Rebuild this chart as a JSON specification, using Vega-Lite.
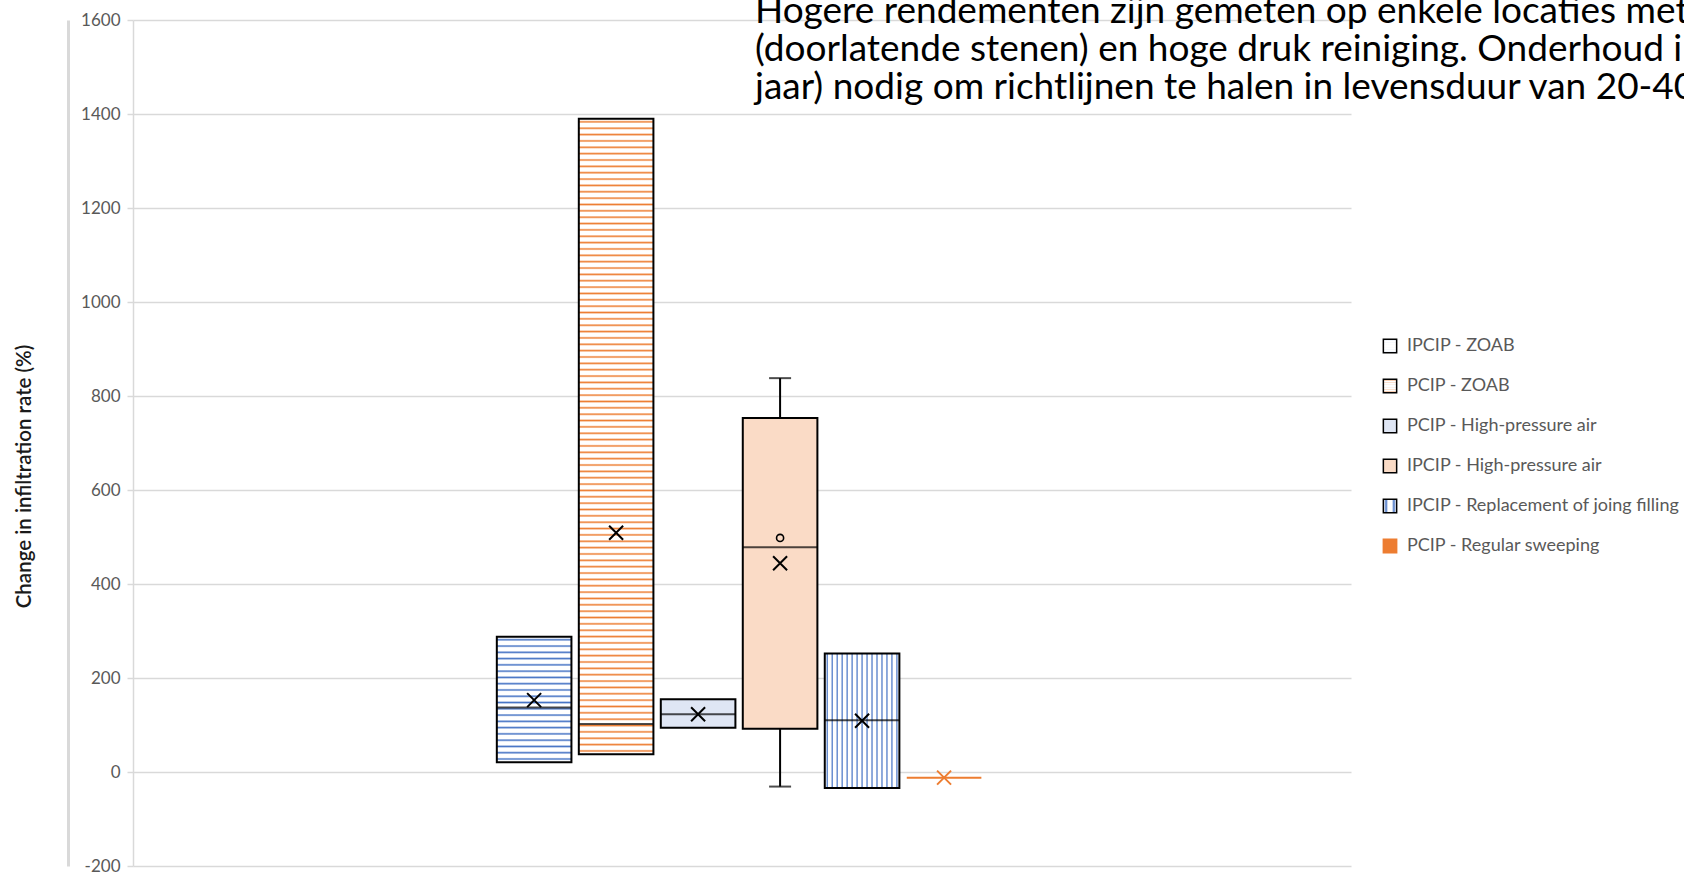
{
  "$schema": "https://vega.github.io/schema/vega-lite/v6.json",
  "autosize": "none",
  "width": 1218,
  "height": 846,
  "padding": {"left": 133, "top": 20, "right": 333, "bottom": 9},
  "background": "white",
  "config": {"font": "Lato", "view": {"stroke": null}},
  "title": {
    "text": [
      "Hogere rendementen zijn gemeten op enkele locaties met",
      "(doorlatende stenen) en hoge druk reiniging. Onderhoud i",
      "jaar) nodig om richtlijnen te halen in levensduur van 20-40"
    ],
    "anchor": "start",
    "frame": "group",
    "orient": "top",
    "dx": 622,
    "dy": 96,
    "offset": 0,
    "font": "Lato",
    "fontSize": 37,
    "fontWeight": "normal",
    "color": "black",
    "lineHeight": 38,
    "limit": 3000
  },
  "datasets": {
    "boxes": [
      {"method": "IPCIP - ZOAB", "min": 21, "q1": 21, "median": 137, "q3": 288, "max": 288, "mean": 153},
      {"method": "PCIP - ZOAB", "min": 38, "q1": 38, "median": 102, "q3": 1390, "max": 1390, "mean": 509},
      {"method": "PCIP - High-pressure air", "min": 94, "q1": 94, "median": 123, "q3": 155, "max": 155, "mean": 123},
      {"method": "IPCIP - High-pressure air", "min": -31, "q1": 92, "median": 478, "q3": 753, "max": 838, "mean": 444},
      {"method": "IPCIP - Replacement of joing filling", "min": -34, "q1": -34, "median": 110, "q3": 252, "max": 252, "mean": 109},
      {"method": "PCIP - Regular sweeping", "min": -12, "q1": -12, "median": -12, "q3": -12, "max": -12, "mean": -12}
    ],
    "outliers": [
      {"method": "IPCIP - High-pressure air", "value": 498}
    ]
  },
  "encoding": {
    "x": {
      "datum": "all",
      "type": "nominal",
      "axis": null,
      "scale": {"type": "band", "paddingInner": 0, "paddingOuter": 0.738, "align": 0.496}
    },
    "xOffset": {
      "field": "method",
      "type": "nominal",
      "scale": {
        "domain": ["IPCIP - ZOAB", "PCIP - ZOAB", "PCIP - High-pressure air", "IPCIP - High-pressure air", "IPCIP - Replacement of joing filling", "PCIP - Regular sweeping"],
        "paddingInner": 0.09,
        "paddingOuter": 0.045
      }
    }
  },
  "resolve": {"axis": {"y": "independent"}},
  "layer": [
    {
      "data": {"name": "boxes"},
      "mark": {"type": "bar", "strokeWidth": 2},
      "encoding": {
        "y": {
          "field": "q1",
          "type": "quantitative",
          "scale": {"domain": [-200, 1600], "nice": false, "zero": false},
          "axis": {
            "orient": "left",
            "values": [-200, 0, 200, 400, 600, 800, 1000, 1200, 1400, 1600],
            "format": "d",
            "labelExpr": "replace(datum.label, '\u2212', '-')",
            "domain": true,
            "domainColor": "#d9d9d9",
            "domainWidth": 1.5,
            "ticks": true,
            "tickColor": "#d9d9d9",
            "tickSize": 6,
            "tickWidth": 1.5,
            "grid": true,
            "gridColor": "#d9d9d9",
            "gridWidth": 1.5,
            "labelFont": "Lato",
            "labelFontSize": 17,
            "labelColor": "#595959",
            "labelPadding": 7,
            "title": "Change in infiltration rate (%)",
            "titleFont": "Lato",
            "titleFontSize": 20.5,
            "titleFontWeight": 600,
            "titleColor": "#1a1a1a",
            "titleAngle": 270,
            "titleAlign": "center",
            "titleBaseline": "middle",
            "titleX": -109,
            "titleY": 456
          }
        },
        "y2": {"field": "q3"},
        "fill": {
          "field": "method",
          "type": "nominal",
          "scale": {
            "domain": ["IPCIP - ZOAB", "PCIP - ZOAB", "PCIP - High-pressure air", "IPCIP - High-pressure air", "IPCIP - Replacement of joing filling", "PCIP - Regular sweeping"],
            "range": [
              {"expr": "{gradient:'linear',x1:0,y1:0,x2:0,y2:1,stops:[{offset:0.0125,color:'#fff'},{offset:0.025,color:'#4472c4'},{offset:0.0375,color:'#fff'},{offset:0.0625,color:'#fff'},{offset:0.075,color:'#4472c4'},{offset:0.0875,color:'#fff'},{offset:0.1125,color:'#fff'},{offset:0.125,color:'#4472c4'},{offset:0.1375,color:'#fff'},{offset:0.1625,color:'#fff'},{offset:0.175,color:'#4472c4'},{offset:0.1875,color:'#fff'},{offset:0.2125,color:'#fff'},{offset:0.225,color:'#4472c4'},{offset:0.2375,color:'#fff'},{offset:0.2625,color:'#fff'},{offset:0.275,color:'#4472c4'},{offset:0.2875,color:'#fff'},{offset:0.3125,color:'#fff'},{offset:0.325,color:'#4472c4'},{offset:0.3375,color:'#fff'},{offset:0.3625,color:'#fff'},{offset:0.375,color:'#4472c4'},{offset:0.3875,color:'#fff'},{offset:0.4125,color:'#fff'},{offset:0.425,color:'#4472c4'},{offset:0.4375,color:'#fff'},{offset:0.4625,color:'#fff'},{offset:0.475,color:'#4472c4'},{offset:0.4875,color:'#fff'},{offset:0.5125,color:'#fff'},{offset:0.525,color:'#4472c4'},{offset:0.5375,color:'#fff'},{offset:0.5625,color:'#fff'},{offset:0.575,color:'#4472c4'},{offset:0.5875,color:'#fff'},{offset:0.6125,color:'#fff'},{offset:0.625,color:'#4472c4'},{offset:0.6375,color:'#fff'},{offset:0.6625,color:'#fff'},{offset:0.675,color:'#4472c4'},{offset:0.6875,color:'#fff'},{offset:0.7125,color:'#fff'},{offset:0.725,color:'#4472c4'},{offset:0.7375,color:'#fff'},{offset:0.7625,color:'#fff'},{offset:0.775,color:'#4472c4'},{offset:0.7875,color:'#fff'},{offset:0.8125,color:'#fff'},{offset:0.825,color:'#4472c4'},{offset:0.8375,color:'#fff'},{offset:0.8625,color:'#fff'},{offset:0.875,color:'#4472c4'},{offset:0.8875,color:'#fff'},{offset:0.9125,color:'#fff'},{offset:0.925,color:'#4472c4'},{offset:0.9375,color:'#fff'},{offset:0.9625,color:'#fff'},{offset:0.975,color:'#4472c4'},{offset:0.9875,color:'#fff'}]}"},
              {"expr": "{gradient:'linear',x1:0,y1:0,x2:0,y2:1,stops:[{offset:0.0025,color:'#fff'},{offset:0.005,color:'#ed7d31'},{offset:0.0075,color:'#fff'},{offset:0.0125,color:'#fff'},{offset:0.015,color:'#ed7d31'},{offset:0.0175,color:'#fff'},{offset:0.0225,color:'#fff'},{offset:0.025,color:'#ed7d31'},{offset:0.0275,color:'#fff'},{offset:0.0325,color:'#fff'},{offset:0.035,color:'#ed7d31'},{offset:0.0375,color:'#fff'},{offset:0.0425,color:'#fff'},{offset:0.045,color:'#ed7d31'},{offset:0.0475,color:'#fff'},{offset:0.0525,color:'#fff'},{offset:0.055,color:'#ed7d31'},{offset:0.0575,color:'#fff'},{offset:0.0625,color:'#fff'},{offset:0.065,color:'#ed7d31'},{offset:0.0675,color:'#fff'},{offset:0.0725,color:'#fff'},{offset:0.075,color:'#ed7d31'},{offset:0.0775,color:'#fff'},{offset:0.0825,color:'#fff'},{offset:0.085,color:'#ed7d31'},{offset:0.0875,color:'#fff'},{offset:0.0925,color:'#fff'},{offset:0.095,color:'#ed7d31'},{offset:0.0975,color:'#fff'},{offset:0.1025,color:'#fff'},{offset:0.105,color:'#ed7d31'},{offset:0.1075,color:'#fff'},{offset:0.1125,color:'#fff'},{offset:0.115,color:'#ed7d31'},{offset:0.1175,color:'#fff'},{offset:0.1225,color:'#fff'},{offset:0.125,color:'#ed7d31'},{offset:0.1275,color:'#fff'},{offset:0.1325,color:'#fff'},{offset:0.135,color:'#ed7d31'},{offset:0.1375,color:'#fff'},{offset:0.1425,color:'#fff'},{offset:0.145,color:'#ed7d31'},{offset:0.1475,color:'#fff'},{offset:0.1525,color:'#fff'},{offset:0.155,color:'#ed7d31'},{offset:0.1575,color:'#fff'},{offset:0.1625,color:'#fff'},{offset:0.165,color:'#ed7d31'},{offset:0.1675,color:'#fff'},{offset:0.1725,color:'#fff'},{offset:0.175,color:'#ed7d31'},{offset:0.1775,color:'#fff'},{offset:0.1825,color:'#fff'},{offset:0.185,color:'#ed7d31'},{offset:0.1875,color:'#fff'},{offset:0.1925,color:'#fff'},{offset:0.195,color:'#ed7d31'},{offset:0.1975,color:'#fff'},{offset:0.2025,color:'#fff'},{offset:0.205,color:'#ed7d31'},{offset:0.2075,color:'#fff'},{offset:0.2125,color:'#fff'},{offset:0.215,color:'#ed7d31'},{offset:0.2175,color:'#fff'},{offset:0.2225,color:'#fff'},{offset:0.225,color:'#ed7d31'},{offset:0.2275,color:'#fff'},{offset:0.2325,color:'#fff'},{offset:0.235,color:'#ed7d31'},{offset:0.2375,color:'#fff'},{offset:0.2425,color:'#fff'},{offset:0.245,color:'#ed7d31'},{offset:0.2475,color:'#fff'},{offset:0.2525,color:'#fff'},{offset:0.255,color:'#ed7d31'},{offset:0.2575,color:'#fff'},{offset:0.2625,color:'#fff'},{offset:0.265,color:'#ed7d31'},{offset:0.2675,color:'#fff'},{offset:0.2725,color:'#fff'},{offset:0.275,color:'#ed7d31'},{offset:0.2775,color:'#fff'},{offset:0.2825,color:'#fff'},{offset:0.285,color:'#ed7d31'},{offset:0.2875,color:'#fff'},{offset:0.2925,color:'#fff'},{offset:0.295,color:'#ed7d31'},{offset:0.2975,color:'#fff'},{offset:0.3025,color:'#fff'},{offset:0.305,color:'#ed7d31'},{offset:0.3075,color:'#fff'},{offset:0.3125,color:'#fff'},{offset:0.315,color:'#ed7d31'},{offset:0.3175,color:'#fff'},{offset:0.3225,color:'#fff'},{offset:0.325,color:'#ed7d31'},{offset:0.3275,color:'#fff'},{offset:0.3325,color:'#fff'},{offset:0.335,color:'#ed7d31'},{offset:0.3375,color:'#fff'},{offset:0.3425,color:'#fff'},{offset:0.345,color:'#ed7d31'},{offset:0.3475,color:'#fff'},{offset:0.3525,color:'#fff'},{offset:0.355,color:'#ed7d31'},{offset:0.3575,color:'#fff'},{offset:0.3625,color:'#fff'},{offset:0.365,color:'#ed7d31'},{offset:0.3675,color:'#fff'},{offset:0.3725,color:'#fff'},{offset:0.375,color:'#ed7d31'},{offset:0.3775,color:'#fff'},{offset:0.3825,color:'#fff'},{offset:0.385,color:'#ed7d31'},{offset:0.3875,color:'#fff'},{offset:0.3925,color:'#fff'},{offset:0.395,color:'#ed7d31'},{offset:0.3975,color:'#fff'},{offset:0.4025,color:'#fff'},{offset:0.405,color:'#ed7d31'},{offset:0.4075,color:'#fff'},{offset:0.4125,color:'#fff'},{offset:0.415,color:'#ed7d31'},{offset:0.4175,color:'#fff'},{offset:0.4225,color:'#fff'},{offset:0.425,color:'#ed7d31'},{offset:0.4275,color:'#fff'},{offset:0.4325,color:'#fff'},{offset:0.435,color:'#ed7d31'},{offset:0.4375,color:'#fff'},{offset:0.4425,color:'#fff'},{offset:0.445,color:'#ed7d31'},{offset:0.4475,color:'#fff'},{offset:0.4525,color:'#fff'},{offset:0.455,color:'#ed7d31'},{offset:0.4575,color:'#fff'},{offset:0.4625,color:'#fff'},{offset:0.465,color:'#ed7d31'},{offset:0.4675,color:'#fff'},{offset:0.4725,color:'#fff'},{offset:0.475,color:'#ed7d31'},{offset:0.4775,color:'#fff'},{offset:0.4825,color:'#fff'},{offset:0.485,color:'#ed7d31'},{offset:0.4875,color:'#fff'},{offset:0.4925,color:'#fff'},{offset:0.495,color:'#ed7d31'},{offset:0.4975,color:'#fff'},{offset:0.5025,color:'#fff'},{offset:0.505,color:'#ed7d31'},{offset:0.5075,color:'#fff'},{offset:0.5125,color:'#fff'},{offset:0.515,color:'#ed7d31'},{offset:0.5175,color:'#fff'},{offset:0.5225,color:'#fff'},{offset:0.525,color:'#ed7d31'},{offset:0.5275,color:'#fff'},{offset:0.5325,color:'#fff'},{offset:0.535,color:'#ed7d31'},{offset:0.5375,color:'#fff'},{offset:0.5425,color:'#fff'},{offset:0.545,color:'#ed7d31'},{offset:0.5475,color:'#fff'},{offset:0.5525,color:'#fff'},{offset:0.555,color:'#ed7d31'},{offset:0.5575,color:'#fff'},{offset:0.5625,color:'#fff'},{offset:0.565,color:'#ed7d31'},{offset:0.5675,color:'#fff'},{offset:0.5725,color:'#fff'},{offset:0.575,color:'#ed7d31'},{offset:0.5775,color:'#fff'},{offset:0.5825,color:'#fff'},{offset:0.585,color:'#ed7d31'},{offset:0.5875,color:'#fff'},{offset:0.5925,color:'#fff'},{offset:0.595,color:'#ed7d31'},{offset:0.5975,color:'#fff'},{offset:0.6025,color:'#fff'},{offset:0.605,color:'#ed7d31'},{offset:0.6075,color:'#fff'},{offset:0.6125,color:'#fff'},{offset:0.615,color:'#ed7d31'},{offset:0.6175,color:'#fff'},{offset:0.6225,color:'#fff'},{offset:0.625,color:'#ed7d31'},{offset:0.6275,color:'#fff'},{offset:0.6325,color:'#fff'},{offset:0.635,color:'#ed7d31'},{offset:0.6375,color:'#fff'},{offset:0.6425,color:'#fff'},{offset:0.645,color:'#ed7d31'},{offset:0.6475,color:'#fff'},{offset:0.6525,color:'#fff'},{offset:0.655,color:'#ed7d31'},{offset:0.6575,color:'#fff'},{offset:0.6625,color:'#fff'},{offset:0.665,color:'#ed7d31'},{offset:0.6675,color:'#fff'},{offset:0.6725,color:'#fff'},{offset:0.675,color:'#ed7d31'},{offset:0.6775,color:'#fff'},{offset:0.6825,color:'#fff'},{offset:0.685,color:'#ed7d31'},{offset:0.6875,color:'#fff'},{offset:0.6925,color:'#fff'},{offset:0.695,color:'#ed7d31'},{offset:0.6975,color:'#fff'},{offset:0.7025,color:'#fff'},{offset:0.705,color:'#ed7d31'},{offset:0.7075,color:'#fff'},{offset:0.7125,color:'#fff'},{offset:0.715,color:'#ed7d31'},{offset:0.7175,color:'#fff'},{offset:0.7225,color:'#fff'},{offset:0.725,color:'#ed7d31'},{offset:0.7275,color:'#fff'},{offset:0.7325,color:'#fff'},{offset:0.735,color:'#ed7d31'},{offset:0.7375,color:'#fff'},{offset:0.7425,color:'#fff'},{offset:0.745,color:'#ed7d31'},{offset:0.7475,color:'#fff'},{offset:0.7525,color:'#fff'},{offset:0.755,color:'#ed7d31'},{offset:0.7575,color:'#fff'},{offset:0.7625,color:'#fff'},{offset:0.765,color:'#ed7d31'},{offset:0.7675,color:'#fff'},{offset:0.7725,color:'#fff'},{offset:0.775,color:'#ed7d31'},{offset:0.7775,color:'#fff'},{offset:0.7825,color:'#fff'},{offset:0.785,color:'#ed7d31'},{offset:0.7875,color:'#fff'},{offset:0.7925,color:'#fff'},{offset:0.795,color:'#ed7d31'},{offset:0.7975,color:'#fff'},{offset:0.8025,color:'#fff'},{offset:0.805,color:'#ed7d31'},{offset:0.8075,color:'#fff'},{offset:0.8125,color:'#fff'},{offset:0.815,color:'#ed7d31'},{offset:0.8175,color:'#fff'},{offset:0.8225,color:'#fff'},{offset:0.825,color:'#ed7d31'},{offset:0.8275,color:'#fff'},{offset:0.8325,color:'#fff'},{offset:0.835,color:'#ed7d31'},{offset:0.8375,color:'#fff'},{offset:0.8425,color:'#fff'},{offset:0.845,color:'#ed7d31'},{offset:0.8475,color:'#fff'},{offset:0.8525,color:'#fff'},{offset:0.855,color:'#ed7d31'},{offset:0.8575,color:'#fff'},{offset:0.8625,color:'#fff'},{offset:0.865,color:'#ed7d31'},{offset:0.8675,color:'#fff'},{offset:0.8725,color:'#fff'},{offset:0.875,color:'#ed7d31'},{offset:0.8775,color:'#fff'},{offset:0.8825,color:'#fff'},{offset:0.885,color:'#ed7d31'},{offset:0.8875,color:'#fff'},{offset:0.8925,color:'#fff'},{offset:0.895,color:'#ed7d31'},{offset:0.8975,color:'#fff'},{offset:0.9025,color:'#fff'},{offset:0.905,color:'#ed7d31'},{offset:0.9075,color:'#fff'},{offset:0.9125,color:'#fff'},{offset:0.915,color:'#ed7d31'},{offset:0.9175,color:'#fff'},{offset:0.9225,color:'#fff'},{offset:0.925,color:'#ed7d31'},{offset:0.9275,color:'#fff'},{offset:0.9325,color:'#fff'},{offset:0.935,color:'#ed7d31'},{offset:0.9375,color:'#fff'},{offset:0.9425,color:'#fff'},{offset:0.945,color:'#ed7d31'},{offset:0.9475,color:'#fff'},{offset:0.9525,color:'#fff'},{offset:0.955,color:'#ed7d31'},{offset:0.9575,color:'#fff'},{offset:0.9625,color:'#fff'},{offset:0.965,color:'#ed7d31'},{offset:0.9675,color:'#fff'},{offset:0.9725,color:'#fff'},{offset:0.975,color:'#ed7d31'},{offset:0.9775,color:'#fff'},{offset:0.9825,color:'#fff'},{offset:0.985,color:'#ed7d31'},{offset:0.9875,color:'#fff'},{offset:0.9925,color:'#fff'},{offset:0.995,color:'#ed7d31'},{offset:0.9975,color:'#fff'}]}"},
              "#dfe6f4",
              "#fadbc6",
              {"expr": "{gradient:'linear',x1:0,y1:0,x2:1,y2:0,stops:[{offset:0.0167,color:'#fff'},{offset:0.0333,color:'#4472c4'},{offset:0.05,color:'#fff'},{offset:0.0833,color:'#fff'},{offset:0.1,color:'#4472c4'},{offset:0.1167,color:'#fff'},{offset:0.15,color:'#fff'},{offset:0.1667,color:'#4472c4'},{offset:0.1833,color:'#fff'},{offset:0.2167,color:'#fff'},{offset:0.2333,color:'#4472c4'},{offset:0.25,color:'#fff'},{offset:0.2833,color:'#fff'},{offset:0.3,color:'#4472c4'},{offset:0.3167,color:'#fff'},{offset:0.35,color:'#fff'},{offset:0.3667,color:'#4472c4'},{offset:0.3833,color:'#fff'},{offset:0.4167,color:'#fff'},{offset:0.4333,color:'#4472c4'},{offset:0.45,color:'#fff'},{offset:0.4833,color:'#fff'},{offset:0.5,color:'#4472c4'},{offset:0.5167,color:'#fff'},{offset:0.55,color:'#fff'},{offset:0.5667,color:'#4472c4'},{offset:0.5833,color:'#fff'},{offset:0.6167,color:'#fff'},{offset:0.6333,color:'#4472c4'},{offset:0.65,color:'#fff'},{offset:0.6833,color:'#fff'},{offset:0.7,color:'#4472c4'},{offset:0.7167,color:'#fff'},{offset:0.75,color:'#fff'},{offset:0.7667,color:'#4472c4'},{offset:0.7833,color:'#fff'},{offset:0.8167,color:'#fff'},{offset:0.8333,color:'#4472c4'},{offset:0.85,color:'#fff'},{offset:0.8833,color:'#fff'},{offset:0.9,color:'#4472c4'},{offset:0.9167,color:'#fff'},{offset:0.95,color:'#fff'},{offset:0.9667,color:'#4472c4'},{offset:0.9833,color:'#fff'}]}"},
              "#ed7d31"
            ]
          },
          "legend": {
            "title": null,
            "orient": "none",
            "legendX": 1248,
            "legendY": 317,
            "symbolType": "square",
            "symbolSize": 177,
            "symbolStrokeWidth": 1.5,
            "symbolOpacity": 1,
            "labelFont": "Lato",
            "labelFontSize": 18,
            "labelColor": "#595959",
            "labelLimit": 400,
            "labelOffset": 8,
            "rowPadding": 20
          }
        },
        "stroke": {
          "field": "method",
          "type": "nominal",
          "scale": {
            "domain": ["IPCIP - ZOAB", "PCIP - ZOAB", "PCIP - High-pressure air", "IPCIP - High-pressure air", "IPCIP - Replacement of joing filling", "PCIP - Regular sweeping"],
            "range": ["#000000", "#000000", "#000000", "#000000", "#000000", "#ed7d31"]
          }
        }
      }
    },
    {
      "data": {"name": "boxes"},
      "transform": [{"filter": "datum.max > datum.q3"}],
      "mark": {"type": "rule", "color": "#000000", "strokeWidth": 2},
      "encoding": {
        "y": {
          "field": "q3",
          "type": "quantitative",
          "scale": {"domain": [-200, 1600], "nice": false, "zero": false},
          "axis": {
            "orient": "left",
            "offset": 65,
            "domain": true,
            "domainColor": "#d9d9d9",
            "domainWidth": 3,
            "labels": false,
            "ticks": false,
            "grid": false,
            "title": null
          }
        },
        "y2": {"field": "max"}
      }
    },
    {
      "data": {"name": "boxes"},
      "transform": [{"filter": "datum.min < datum.q1"}],
      "mark": {"type": "rule", "color": "#000000", "strokeWidth": 2},
      "encoding": {
        "y": {"field": "min", "type": "quantitative", "scale": {"domain": [-200, 1600], "nice": false, "zero": false}, "axis": null},
        "y2": {"field": "q1"}
      }
    },
    {
      "data": {"name": "boxes"},
      "transform": [{"filter": "datum.max > datum.q3"}],
      "mark": {"type": "tick", "color": "#000000", "size": 22, "thickness": 2},
      "encoding": {
        "y": {"field": "max", "type": "quantitative", "scale": {"domain": [-200, 1600], "nice": false, "zero": false}, "axis": null}
      }
    },
    {
      "data": {"name": "boxes"},
      "transform": [{"filter": "datum.min < datum.q1"}],
      "mark": {"type": "tick", "color": "#000000", "size": 22, "thickness": 2},
      "encoding": {
        "y": {"field": "min", "type": "quantitative", "scale": {"domain": [-200, 1600], "nice": false, "zero": false}, "axis": null}
      }
    },
    {
      "data": {"name": "boxes"},
      "transform": [{"filter": "datum.q3 > datum.q1"}],
      "mark": {"type": "tick", "color": "#000000", "size": 74.5, "thickness": 2},
      "encoding": {
        "y": {"field": "median", "type": "quantitative", "scale": {"domain": [-200, 1600], "nice": false, "zero": false}, "axis": null}
      }
    },
    {
      "data": {"name": "boxes"},
      "mark": {"type": "point", "shape": "M-1,-1L1,1M-1,1L1,-1", "filled": false, "size": 196, "strokeWidth": 2, "opacity": 1},
      "encoding": {
        "y": {"field": "mean", "type": "quantitative", "scale": {"domain": [-200, 1600], "nice": false, "zero": false}, "axis": null},
        "stroke": {
          "condition": {"test": "datum.method === 'PCIP - Regular sweeping'", "value": "#ed7d31"},
          "value": "#000000"
        }
      }
    },
    {
      "data": {"name": "outliers"},
      "mark": {"type": "point", "shape": "circle", "filled": false, "size": 50, "strokeWidth": 1.6, "color": "#000000", "opacity": 1},
      "encoding": {
        "y": {"field": "value", "type": "quantitative", "scale": {"domain": [-200, 1600], "nice": false, "zero": false}, "axis": null}
      }
    }
  ]
}
